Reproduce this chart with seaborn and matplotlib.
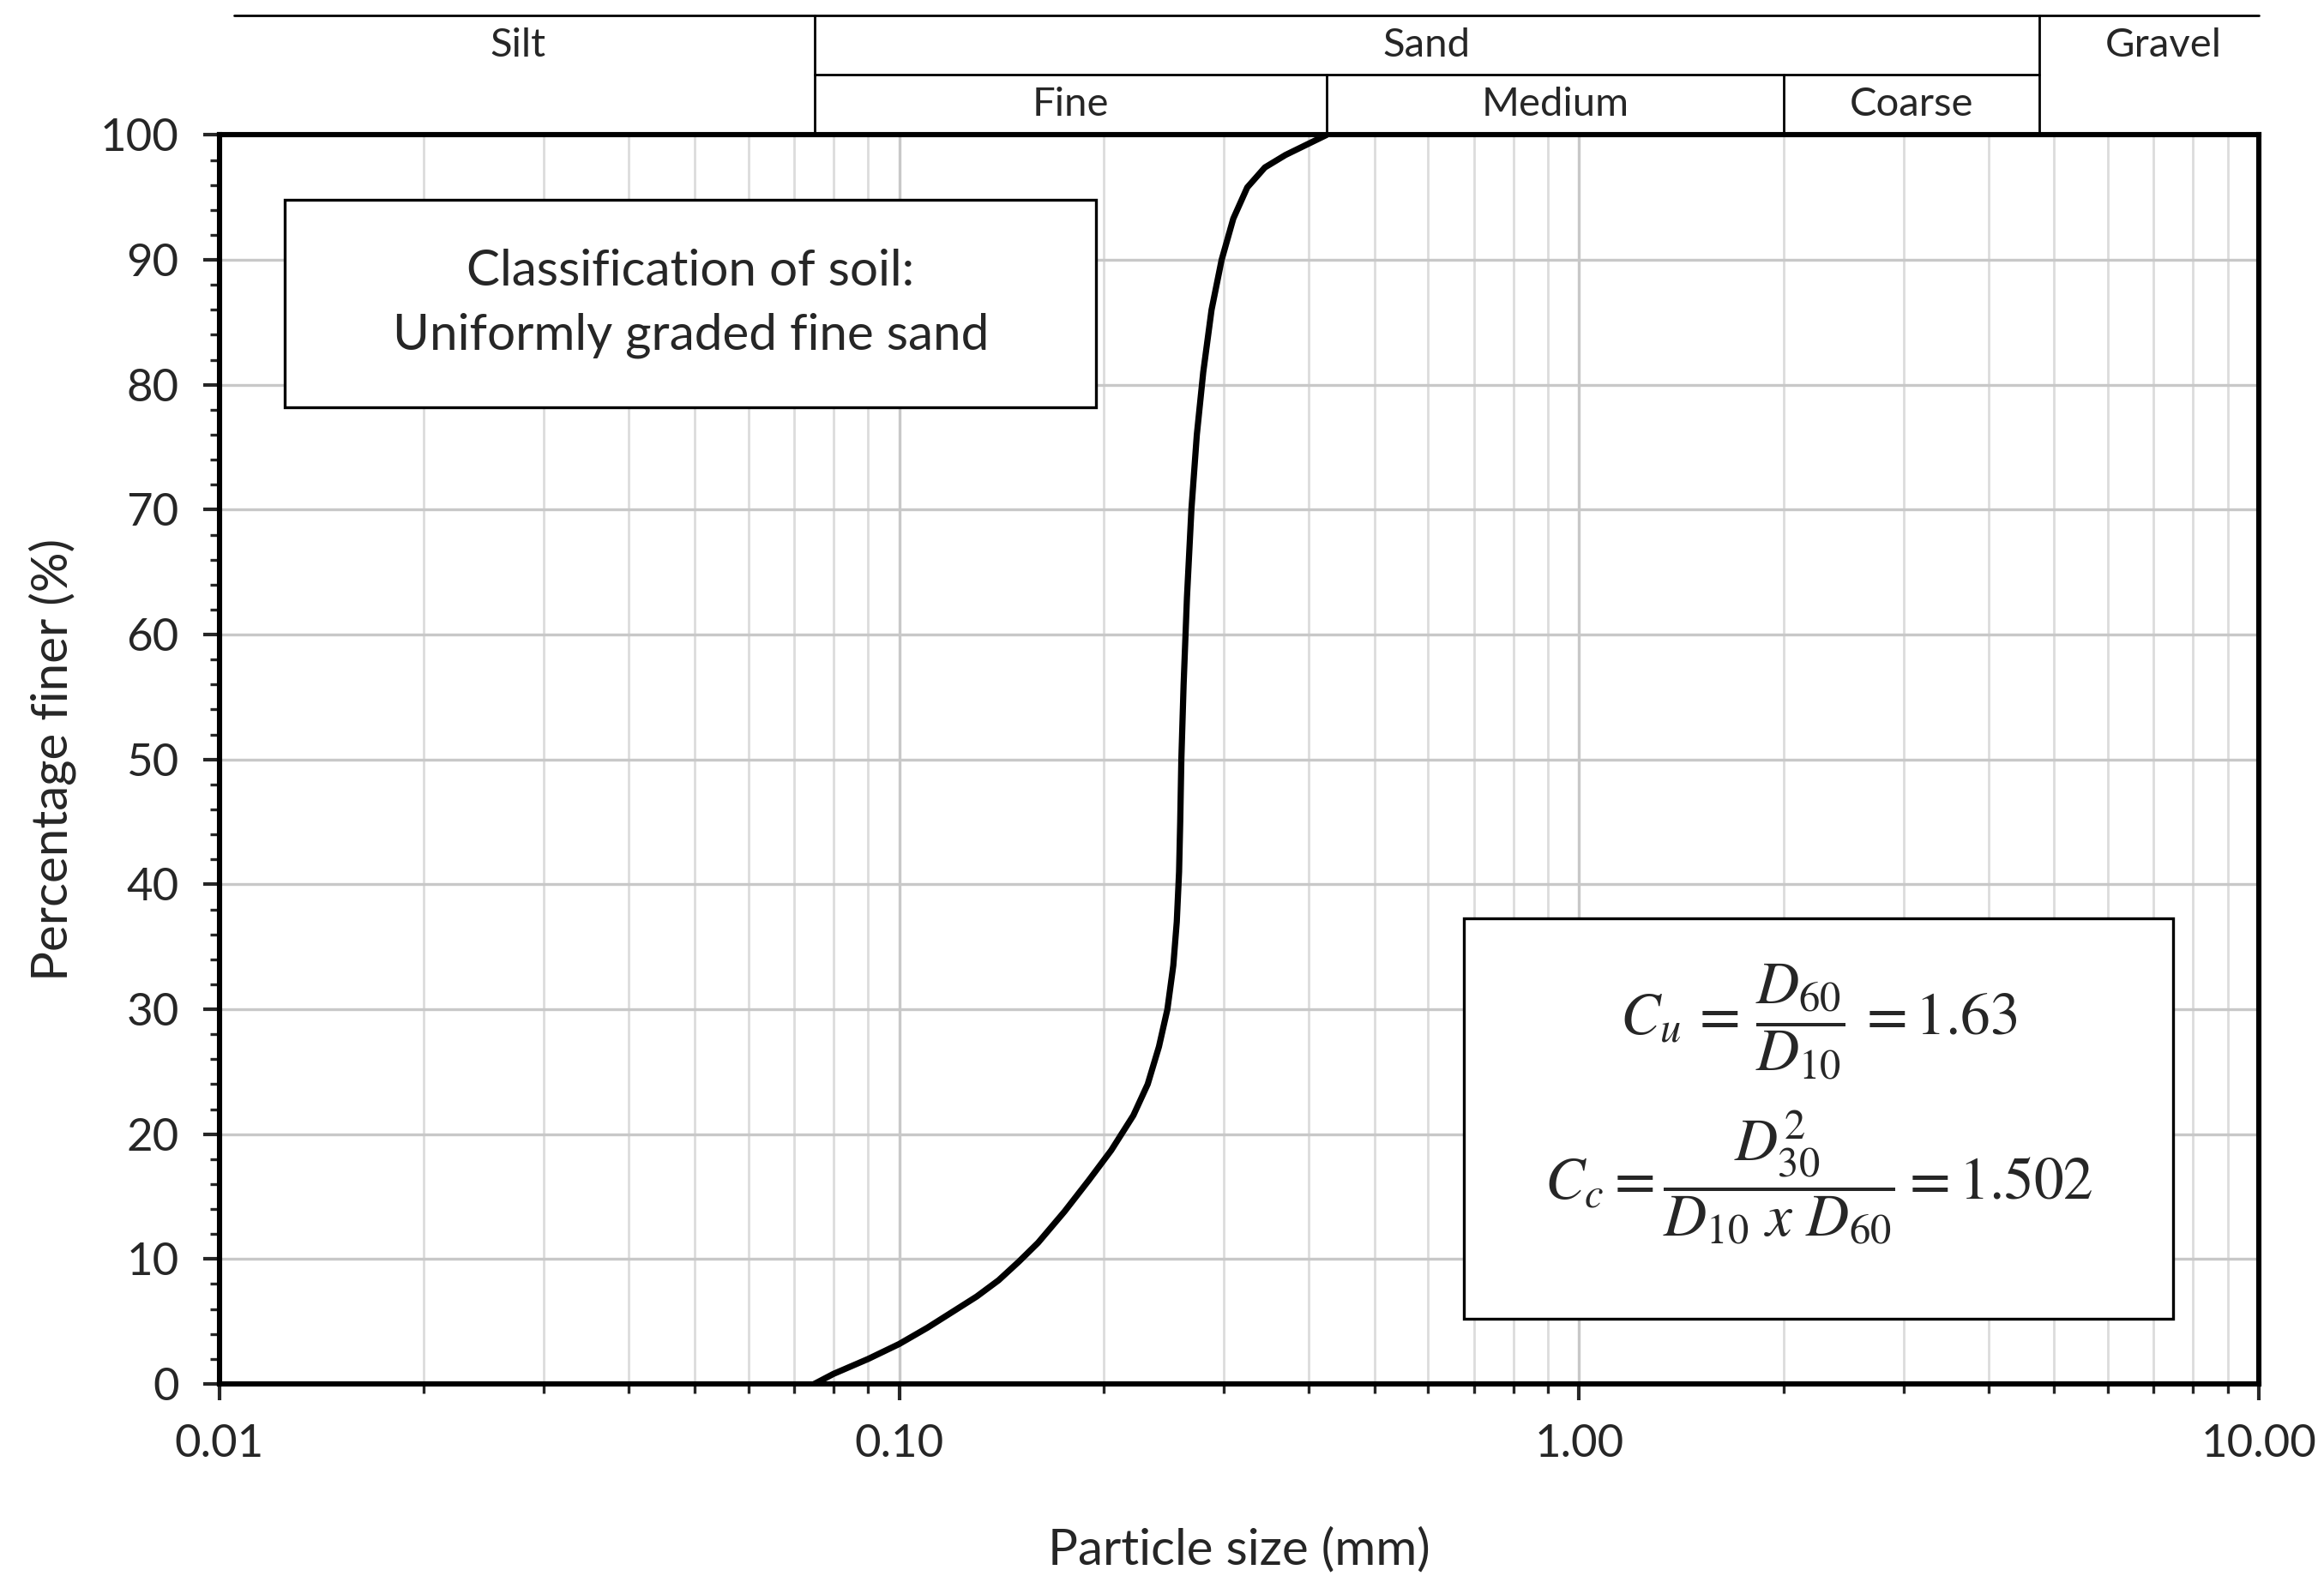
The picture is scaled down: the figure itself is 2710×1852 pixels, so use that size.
import numpy as np
import pandas as pd
import seaborn as sns
import matplotlib.pyplot as plt
from matplotlib.ticker import FixedLocator, NullFormatter, MultipleLocator

# grain size distribution
size_mm = [0.075, 0.08, 0.09, 0.10, 0.11, 0.12, 0.13, 0.14, 0.15, 0.16, 0.175, 0.19, 0.205, 0.221, 0.232,
           0.241, 0.248, 0.253, 0.256, 0.258, 0.259, 0.26, 0.262, 0.265, 0.269, 0.274, 0.28, 0.288,
           0.298, 0.31, 0.325, 0.345, 0.37, 0.40, 0.425]
pct_finer = [0, 0.8, 2.0, 3.2, 4.5, 5.8, 7.0, 8.3, 9.8, 11.3, 13.8, 16.3, 18.7, 21.5, 24.0,
             27.0, 30.0, 33.5, 37.0, 41.0, 45.0, 50.0, 56.0, 63.0, 70.0, 76.0, 81.0, 86.0,
             90.0, 93.3, 95.8, 97.4, 98.4, 99.3, 100]

# band boundaries (mm)
silt_start, sand_start, fine_end, medium_end, sand_end, gravel_end = 0.0105, 0.075, 0.425, 2.0, 4.75, 10.0
band_labels = ["Silt", "Sand", "Gravel", "Fine", "Medium", "Coarse"]

sns.set_style("white")
plt.rcParams['font.family'] = ['Lato', 'DejaVu Sans']
plt.rcParams['mathtext.fontset'] = 'stix'

fig = plt.figure(figsize=(13.55, 9.26), dpi=200)
ax = fig.add_axes([0.0944, 0.1285, 0.8776, 0.7865])

df = pd.DataFrame({"size": size_mm, "finer": pct_finer})
sns.lineplot(data=df, x="size", y="finer", ax=ax, color="black", linewidth=2.6, sort=False)

ax.set_xscale("log")
ax.set_xlim(0.01, 10)
ax.set_ylim(0, 100)
ax.set_xticks([0.01, 0.1, 1, 10])
ax.set_xticklabels(["0.01", "0.10", "1.00", "10.00"])
minors = [m * 10.0 ** e for e in (-2, -1, 0) for m in range(2, 10)]
ax.xaxis.set_minor_locator(FixedLocator(minors))
ax.xaxis.set_minor_formatter(NullFormatter())
ax.yaxis.set_major_locator(MultipleLocator(10))
ax.yaxis.set_minor_locator(MultipleLocator(2))
ax.grid(True, which="major", color="#c8c8c8", linewidth=1.2)
ax.grid(True, which="minor", axis="x", color="#dcdcdc", linewidth=1.0)
ax.tick_params(which="major", direction="out", length=7, width=1.5, labelsize=19, pad=10, left=True, bottom=True)
ax.tick_params(which="minor", direction="out", length=4, width=1.2, left=True, bottom=True)
for s in ax.spines.values():
    s.set_color("black")
    s.set_linewidth(2.2)
ax.set_xlabel("Particle size (mm)", fontsize=21, labelpad=26)
ax.set_ylabel("Percentage finer (%)", fontsize=21, labelpad=10)

# top classification band
tr = ax.get_xaxis_transform()
kw = dict(transform=tr, clip_on=False, color="black", linewidth=1.0)
ax.plot([silt_start, gravel_end], [1.096, 1.096], **kw)
ax.plot([sand_start, sand_end], [1.0485, 1.0485], **kw)
for x in (sand_start, sand_end):
    ax.plot([x, x], [1.0, 1.096], **kw)
for x in (fine_end, medium_end):
    ax.plot([x, x], [1.0, 1.0485], **kw)

def gmid(a, b):
    return np.sqrt(a * b)

tk = dict(transform=tr, ha="center", va="center", fontsize=17)
ax.text(0.0275, 1.072, band_labels[0], **tk)
ax.text(gmid(sand_start, sand_end), 1.072, band_labels[1], **tk)
ax.text(gmid(sand_end, gravel_end) * 1.05, 1.072, band_labels[2], **tk)
ax.text(gmid(sand_start, fine_end), 1.024, band_labels[3], **tk)
ax.text(gmid(fine_end, medium_end), 1.024, band_labels[4], **tk)
ax.text(gmid(medium_end, sand_end), 1.024, band_labels[5], **tk)

# annotation boxes
ax.add_patch(plt.Rectangle((0.032, 0.782), 0.398, 0.166, transform=ax.transAxes,
                           fill=True, facecolor="white", edgecolor="black", linewidth=1.2, zorder=5))
ax.text(0.231, 0.865, "Classification of soil:\nUniformly graded fine sand", transform=ax.transAxes,
        ha="center", va="center", fontsize=21, linespacing=1.5, zorder=6)

ax.add_patch(plt.Rectangle((0.610, 0.052), 0.348, 0.321, transform=ax.transAxes,
                           fill=True, facecolor="white", edgecolor="black", linewidth=1.2, zorder=5))
ax.text(0.784, 0.29, r"$C_u\,=\,\dfrac{D_{60}}{D_{10}}\,=1.63$", transform=ax.transAxes,
        ha="center", va="center", fontsize=25, zorder=6)
ax.text(0.784, 0.165, r"$C_c=\dfrac{D_{30}^{2}}{D_{10}\ x\ D_{60}}=1.502$", transform=ax.transAxes,
        ha="center", va="center", fontsize=25, zorder=6)

fig.savefig("out.png", dpi=200, facecolor="white")
